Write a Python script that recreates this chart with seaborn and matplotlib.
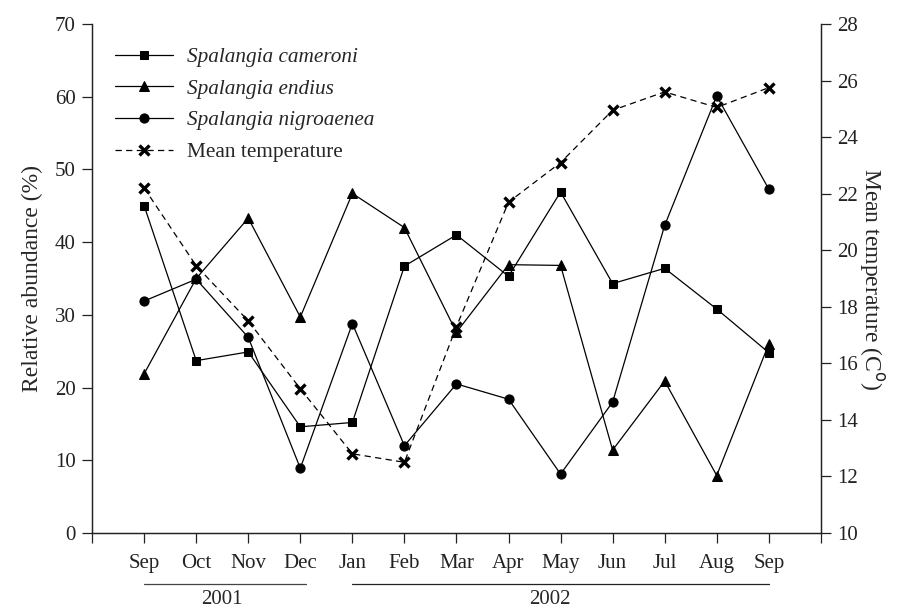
import numpy as np
import pandas as pd
import matplotlib
matplotlib.use('Agg')
import matplotlib.pyplot as plt
import matplotlib.transforms as mtransforms
import seaborn as sns

## dados
meses = ['Sep', 'Oct', 'Nov', 'Dec', 'Jan', 'Feb', 'Mar', 'Apr', 'May', 'Jun', 'Jul', 'Aug', 'Sep']
cameroni = [45.0, 23.7, 24.9, 14.6, 15.2, 36.7, 41.0, 35.3, 46.9, 34.3, 36.4, 30.8, 24.8]
endius = [21.9, 35.0, 43.3, 29.7, 46.7, 42.0, 27.6, 36.9, 36.8, 11.4, 20.9, 7.9, 26.0]
nigroaenea = [31.9, 34.9, 26.9, 8.9, 28.8, 12.0, 20.5, 18.4, 8.1, 18.0, 42.3, 60.1, 47.3]
temperatura = [22.2, 19.45, 17.5, 15.1, 12.8, 12.5, 17.3, 21.7, 23.1, 24.95, 25.6, 25.05, 25.75]
anos = ['2001', '2002']

sns.set_style('ticks')
plt.rcParams['font.family'] = ['Liberation Serif', 'DejaVu Serif']

pos = np.arange(len(meses))
df = pd.DataFrame({'pos': pos, 'cameroni': cameroni, 'endius': endius,
                   'nigroaenea': nigroaenea, 'temp': temperatura})

fig = plt.figure(figsize=(9.03, 6.08), dpi=100)
ax = fig.add_axes([0.102, 0.1234, 0.807, 0.8371])
ax2 = ax.twinx()

kw = dict(color='black', linewidth=0.9, markeredgecolor='black')
sns.lineplot(data=df, x='pos', y='cameroni', marker='s', markersize=6.3, ax=ax,
             label='Spalangia cameroni', **kw)
sns.lineplot(data=df, x='pos', y='endius', marker='^', markersize=7.6, ax=ax,
             label='Spalangia endius', **kw)
sns.lineplot(data=df, x='pos', y='nigroaenea', marker='o', markersize=6.6, ax=ax,
             label='Spalangia nigroaenea', **kw)
sns.lineplot(data=df, x='pos', y='temp', marker='x', ax=ax2, label='Mean temperature',
             color='black', markeredgecolor='black', linewidth=0.9, linestyle=(0, (5, 3.5)),
             markersize=6.5, markeredgewidth=2.4)

ax.set_xlim(-1, 13)
ax.set_ylim(0, 70)
ax2.set_ylim(10, 28)
ax.set_xticks(np.arange(-1, 14))
ax.set_xticklabels([''] + meses + [''])
ax.set_yticks(np.arange(0, 71, 10))
ax2.set_yticks(np.arange(10, 29, 2))
ax.set_xlabel('')
ax.set_ylabel('Relative abundance (%)', fontsize=17, labelpad=8)
ax2.set_ylabel('Mean temperature (C$^{\\mathrm{o}}$)', fontsize=17, rotation=270, labelpad=20)

for a in (ax, ax2):
    a.tick_params(labelsize=15, length=7, width=0.9, direction='out', pad=5, colors='#222222')
    a.spines['top'].set_visible(False)
    for s in ('left', 'right', 'bottom'):
        a.spines[s].set_linewidth(0.9)
        a.spines[s].set_color('#222222')
ax.tick_params(axis='x', pad=8)

# legenda combinada
h1, l1 = ax.get_legend_handles_labels()
h2, l2 = ax2.get_legend_handles_labels()
if ax2.get_legend() is not None:
    ax2.get_legend().remove()
leg = ax.legend(h1 + h2, l1 + l2, loc='upper left', frameon=False, fontsize=15.3,
                handlelength=2.7, handletextpad=0.66, labelspacing=0.55,
                bbox_to_anchor=(0.0, 1.0), borderaxespad=0.7)
for t in leg.get_texts()[:3]:
    t.set_style('italic')

# linhas dos anos abaixo dos meses
trans = mtransforms.blended_transform_factory(ax.transData, ax.transAxes)
ax.plot([0, 3.1], [-0.10, -0.10], transform=trans, color='#444444', linewidth=0.9, clip_on=False)
ax.plot([4, 12], [-0.10, -0.10], transform=trans, color='#222222', linewidth=0.9, clip_on=False)
ax.text(1.5, -0.113, anos[0], transform=trans, ha='center', va='top', fontsize=15)
ax.text(7.8, -0.113, anos[1], transform=trans, ha='center', va='top', fontsize=15)

fig.savefig('out.png', dpi=100)
